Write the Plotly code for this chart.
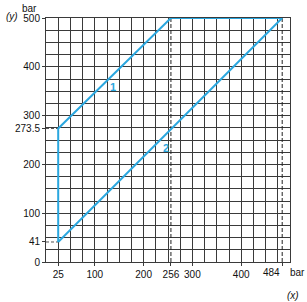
import plotly.graph_objects as go

# Data
curve1_x = [25, 25, 256, 484]
curve1_y = [41, 273.5, 500, 500]
curve2_x = [25, 484]
curve2_y = [41, 500]

x_ticks = [25, 100, 200, 256, 300, 400, 484]
x_tick_labels = ["25", "100", "200", "256", "300", "400", ""]
last_x_label = "484"
y_ticks = [0, 41, 100, 200, 273.5, 300, 400, 500]
y_tick_labels = ["0", "41", "100", "200", "273.5", "300", "400", "500"]

dash_h = [41, 273.5]   # horizontal reference levels
dash_v = [256, 484]    # vertical reference levels

labels = [("1", 138, 359), ("2", 246, 234)]

AX_MIN, AX_MAX, GRID_STEP = 0, 500, 25

BLUE = "#2aa7df"
GRID = "#3a3a3a"
FONT = "Liberation Sans, Arial, sans-serif"

fig = go.Figure()

for yv in dash_h:
    fig.add_trace(go.Scatter(x=[AX_MIN, curve1_x[0]], y=[yv, yv], mode="lines",
                             line=dict(color="#555555", width=1, dash="3px,2px"),
                             hoverinfo="skip", showlegend=False))
for xv in dash_v:
    fig.add_trace(go.Scatter(x=[xv, xv], y=[AX_MIN, AX_MAX], mode="lines",
                             line=dict(color="#222222", width=1, dash="4px,2px"),
                             hoverinfo="skip", showlegend=False))

fig.add_trace(go.Scatter(x=curve1_x, y=curve1_y, mode="lines",
                         line=dict(color=BLUE, width=2), showlegend=False))
fig.add_trace(go.Scatter(x=curve2_x, y=curve2_y, mode="lines",
                         line=dict(color=BLUE, width=2), showlegend=False))

# invisible trace so the labelled overlay axes render
fig.add_trace(go.Scatter(x=[AX_MIN], y=[AX_MIN], xaxis="x2", yaxis="y2",
                         mode="markers", marker=dict(opacity=0),
                         hoverinfo="skip", showlegend=False))

for txt, lx, ly in labels:
    fig.add_annotation(x=lx, y=ly, text="<b>" + txt + "</b>", showarrow=False,
                       font=dict(color=BLUE, size=11, family=FONT))

grid_axis = dict(
    range=[AX_MIN, AX_MAX], tickmode="linear", tick0=AX_MIN, dtick=GRID_STEP,
    showgrid=True, gridcolor=GRID, gridwidth=1, showticklabels=False, ticks="",
    showline=True, mirror=True, linecolor=GRID, linewidth=1, zeroline=False,
)
label_axis = dict(
    range=[AX_MIN, AX_MAX], tickmode="array", showgrid=False, zeroline=False,
    showline=False, ticks="outside", ticklen=3, tickcolor=GRID, tickwidth=1,
    tickfont=dict(size=10, color="#111111", family=FONT),
)

fig.update_layout(
    xaxis=grid_axis, yaxis=grid_axis,
    xaxis2=dict(label_axis, overlaying="x", anchor="y2", side="bottom",
                tickvals=x_ticks, ticktext=x_tick_labels),
    yaxis2=dict(label_axis, overlaying="y", anchor="x2", side="left",
                tickvals=y_ticks, ticktext=y_tick_labels),
)

ann_font = dict(size=10, color="#111111", family=FONT)
# last x tick label, nudged left to leave room for the unit
fig.add_annotation(x=x_ticks[-1], xref="x", yref="paper", y=-0.045, text=last_x_label,
                   showarrow=False, xanchor="center", yanchor="middle",
                   xshift=-11, font=ann_font)
fig.add_annotation(xref="paper", yref="paper", x=-0.066, y=1.037, text="bar",
                   showarrow=False, xanchor="center", yanchor="middle", font=ann_font)
fig.add_annotation(xref="paper", yref="paper", x=-0.139, y=1.008, text="<i>(y)</i>",
                   showarrow=False, xanchor="center", yanchor="middle", font=ann_font)
fig.add_annotation(xref="paper", yref="paper", x=0.99, y=-0.045, text="bar",
                   showarrow=False, xanchor="left", yanchor="middle", font=ann_font)
fig.add_annotation(xref="paper", yref="paper", x=1.012, y=-0.139, text="<i>(x)</i>",
                   showarrow=False, xanchor="center", yanchor="middle", font=ann_font)

fig.update_layout(
    width=307, height=302,
    margin=dict(l=46, r=17, t=18, b=40),
    paper_bgcolor="white", plot_bgcolor="white",
    showlegend=False,
)

fig.write_html("out.html")
